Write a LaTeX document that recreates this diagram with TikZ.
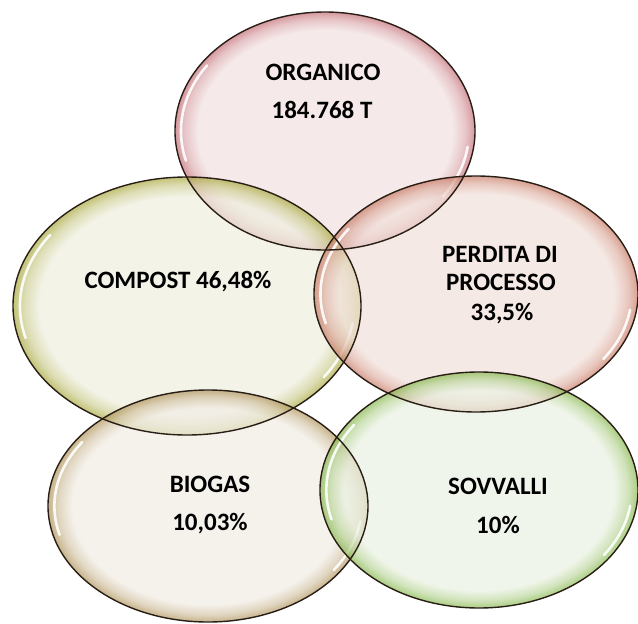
\documentclass[tikz,border=0pt]{standalone}
\usepackage{fontspec}
\setmainfont{Carlito}

% bubble colours (centre / rim)
\definecolor{orgin}{RGB}{241,224,224}
\definecolor{orgout}{RGB}{196,110,118}
\definecolor{comin}{RGB}{238,238,222}
\definecolor{comout}{RGB}{169,169,62}
\definecolor{perin}{RGB}{241,224,218}
\definecolor{perout}{RGB}{200,122,100}
\definecolor{bioin}{RGB}{241,236,228}
\definecolor{bioout}{RGB}{176,148,91}
\definecolor{sovin}{RGB}{234,241,226}
\definecolor{sovout}{RGB}{134,184,76}
\definecolor{rimline}{RGB}{40,30,22}
\colorlet{bubin}{white}
\colorlet{bubout}{black}

\pgfdeclareradialshading[bubin,bubout]{bubble}{\pgfpoint{0bp}{0bp}}{%
  color(0bp)=(bubin); color(21.2bp)=(bubin); color(23.4bp)=(bubout!45!bubin);
  color(25bp)=(bubout); color(50bp)=(bubout)}

\tikzset{
  bubble colours/.code 2 args={\colorlet{bubin}{#1}\colorlet{bubout}{#2}},
  lbl/.style={font=\fontsize{25}{30}\selectfont\bfseries, anchor=base, inner sep=0pt},
  rim/.style={draw=rimline, line width=1.4pt},
  gloss/.style={white, line width=2.6pt, line cap=round, opacity=0.9}
}

\begin{document}
\begin{tikzpicture}[x=1pt,y=-1pt]
	\useasboundingbox (0,0) rectangle (638,624);
	\clip (0,0) rectangle (638,624);

	% Bubbles
	\foreach \cx/\cy/\rx/\ry/\cin/\cout in {
		325/131/150/119/orgin/orgout,
		187/306/174/129/comin/comout,
		476/294/162/118/perin/perout,
		208/506/160/116/bioin/bioout,
		479/490/159/118/sovin/sovout}
	{
		\shade[bubble colours={\cin}{\cout}, shading=bubble, fill opacity=0.7]
			(\cx,\cy) ellipse [x radius=\rx, y radius=\ry];
		% glossy highlights
		\draw[gloss] (\cx,\cy) ++(165:{0.96*\rx} and {0.96*\ry})
			arc [start angle=165, end angle=215, x radius=0.96*\rx, y radius=0.96*\ry];
		\draw[gloss] (\cx,\cy) ++(35:{0.96*\rx} and {0.96*\ry})
			arc [start angle=35, end angle=8, x radius=0.96*\rx, y radius=0.96*\ry];
	}

	% Outlines
	\foreach \cx/\cy/\rx/\ry in {325/131/150/119, 187/306/174/129, 476/294/162/118,
		208/506/160/116, 479/490/159/118}
		\draw[rim] (\cx,\cy) ellipse [x radius=\rx, y radius=\ry];

	% Labels
	\node[lbl] (org1) at (323,80) {ORGANICO};
	\node[lbl] (org2) at (322,118) {184.768 T};
	\node[lbl] (com) at (178,288) {COMPOST 46,48\%};
	\node[lbl] (per1) at (500,262) {PERDITA DI};
	\node[lbl] (per2) at (501,290) {PROCESSO};
	\node[lbl] (per3) at (502,320) {33,5\%};
	\node[lbl] (bio1) at (210,492) {BIOGAS};
	\node[lbl] (bio2) at (210,530) {10,03\%};
	\node[lbl] (sov1) at (498,494) {SOVVALLI};
	\node[lbl] (sov2) at (498,533) {10\%};
\end{tikzpicture}
\end{document}
